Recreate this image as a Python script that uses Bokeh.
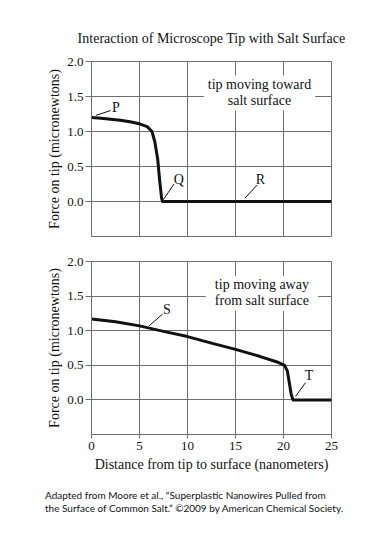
from bokeh.plotting import figure
from bokeh.layouts import column
from bokeh.models import Range1d, FixedTicker, PrintfTickFormatter, Div
from bokeh.core.properties import value
from bokeh.embed import file_html
from bokeh.resources import INLINE

# Data
toward_x = [0, 1, 2, 3, 4, 5, 5.8, 6.3, 6.6, 6.9, 7.1, 7.3, 7.4, 25]
toward_y = [1.2, 1.19, 1.175, 1.16, 1.14, 1.11, 1.07, 1.0, 0.85, 0.6, 0.3, 0.05, 0.0, 0.0]
away_x = [0, 2.5, 5, 7.5, 10, 12.5, 15, 17.5, 19.5, 20.1, 20.4, 20.6, 20.8, 21.0, 25]
away_y = [1.17, 1.13, 1.07, 0.99, 0.915, 0.82, 0.73, 0.63, 0.54, 0.5, 0.42, 0.25, 0.08, 0.0, 0.0]
x_ticks = [0, 5, 10, 15, 20, 25]
y_ticks = [0, 0.5, 1.0, 1.5, 2.0]

SERIF = "Liberation Serif"
GRID = "#6e6e6e"


def make_fig(height, top, bottom, title=None, xaxis=True):
    p = figure(width=353, height=height, x_range=Range1d(0, 25), y_range=Range1d(-0.5, 2.0),
               output_backend="svg", toolbar_location=None,
               min_border_left=91, min_border_right=22, min_border_top=top, min_border_bottom=bottom)
    if title:
        p.title.text = title
        p.title.align = "center"
        p.title.text_font = SERIF
        p.title.text_font_size = "14px"
        p.title.text_font_style = "normal"
        p.title.text_color = "#111"
        p.title.standoff = 31
    p.xaxis.ticker = FixedTicker(ticks=x_ticks)
    p.yaxis.ticker = FixedTicker(ticks=y_ticks)
    p.yaxis.formatter = PrintfTickFormatter(format="%.1f")
    p.axis.axis_line_color = GRID
    p.axis.major_tick_line_color = GRID
    p.axis.minor_tick_line_color = None
    p.axis.major_label_text_font = SERIF
    p.axis.major_label_text_font_size = "13px"
    p.axis.major_label_text_color = "#111"
    p.axis.axis_label_text_font = SERIF
    p.axis.axis_label_text_font_size = "14px"
    p.axis.axis_label_text_font_style = "normal"
    p.axis.axis_label_text_color = "#111"
    p.yaxis.major_tick_in = 0
    p.yaxis.major_tick_out = 6
    p.yaxis.major_label_standoff = 2
    p.yaxis.axis_label = "Force on tip (micronewtons)"
    p.yaxis.axis_label_standoff = 2
    p.xaxis.major_tick_in = 4
    p.xaxis.major_tick_out = 4
    p.xaxis.major_label_standoff = 3
    if not xaxis:
        p.xaxis.visible = False
    p.grid.grid_line_color = GRID
    p.grid.grid_line_width = 1
    p.xgrid.ticker = FixedTicker(ticks=x_ticks)
    p.ygrid.ticker = FixedTicker(ticks=y_ticks)
    p.outline_line_color = GRID
    p.outline_line_width = 1
    p.background_fill_color = "white"
    return p


def add_note(p, text, left, right, bottom, top, ty):
    p.quad(left=[left], right=[right], bottom=[bottom], top=[top], fill_color="white", line_color=None)
    p.text(x=[(left + right) / 2], y=[ty], text=[text], text_align="center", text_baseline="middle",
           text_font=value(SERIF), text_font_size="14px", text_color="#111", text_line_height=1.05)


def add_marker(p, label, x0, y0, x1, y1, lx, ly):
    p.segment(x0=[x0], y0=[y0], x1=[x1], y1=[y1], line_color="#111", line_width=1)
    p.text(x=[lx], y=[ly], text=[label], text_align="center", text_baseline="middle",
           text_font=value(SERIF), text_font_size="14px", text_color="#111")


p1 = make_fig(height=246, top=61, bottom=10, title="Interaction of Microscope Tip with Salt Surface", xaxis=False)
add_note(p1, "tip moving toward\nsalt surface", 11.7, 23.3, 1.30, 1.80, 1.56)
p1.line(toward_x, toward_y, line_color="#111", line_width=3, line_join="round")
add_marker(p1, "P", 0.45, 1.23, 2.0, 1.30, 2.55, 1.34)
add_marker(p1, "Q", 7.5, 0.03, 8.6, 0.25, 9.1, 0.32)
add_marker(p1, "R", 16.0, 0.05, 17.25, 0.235, 17.6, 0.31)

p2 = make_fig(height=234, top=15, bottom=46)
p2.xaxis.axis_label = "Distance from tip to surface (nanometers)"
p2.xaxis.axis_label_standoff = 4
add_note(p2, "tip moving away\nfrom salt surface", 11.9, 23.6, 1.29, 1.79, 1.55)
p2.line(away_x, away_y, line_color="#111", line_width=3, line_join="round")
add_marker(p2, "S", 6.0, 1.07, 7.4, 1.24, 7.85, 1.30)
add_marker(p2, "T", 21.25, 0.05, 22.3, 0.25, 22.65, 0.35)

note = Div(text="Adapted from Moore et al., \u201cSuperplastic Nanowires Pulled from<br>"
                "the Surface of Common Salt.\u201d \u00a92009 by American Chemical Society.",
           width=360, margin=(0, 0, 0, 0),
           styles={"font-family": "Lato", "font-size": "10px", "line-height": "13px",
                   "color": "#111", "padding-left": "45px", "padding-top": "9px",
                   "white-space": "nowrap"})

layout = column(p1, p2, note, spacing=0)
open("out.html", "w").write(file_html(layout, INLINE))
